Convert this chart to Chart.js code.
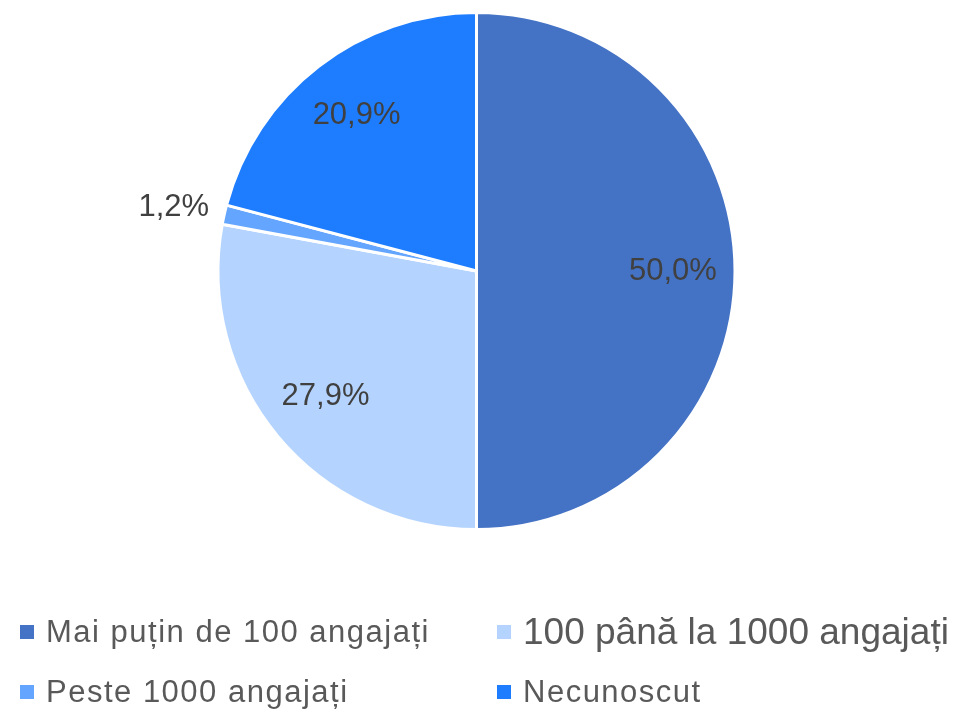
<!DOCTYPE html>
<html>
<head>
<meta charset="utf-8">
<script src="https://cdn.jsdelivr.net/npm/chart.js@4"></script>
<style>
  html, body { margin:0; padding:0; background:#fff; }
  #wrap { position:relative; width:953px; height:712px; }
  #chart { position:absolute; left:0; top:0; }
  .leg { position:absolute; display:flex; align-items:center; color:#595959; font-family:"Liberation Sans", Arial, sans-serif; white-space:nowrap; }
  .leg span.box { display:inline-block; width:14px; height:14px; margin-right:12px; }
</style>
</head>
<body>
<div id="wrap">
  <canvas id="chart" width="953" height="712"></canvas>
</div>
<script>
(function(){
  const labels = ['Mai puțin de 100 angajați', '100 până la 1000 angajați', 'Peste 1000 angajați', 'Necunoscut'];
  const values = [50.0, 27.9, 1.2, 20.9];
  const colors = ['#4472C4', '#B4D4FF', '#64A5FF', '#1E7DFF'];

  // legend layout (two columns, two rows)
  const legendPos = [
    {x:20, y:632, size:31, ls:1.5},
    {x:497, y:632, size:37, ls:0},
    {x:20, y:692, size:31, ls:1.5},
    {x:497, y:692, size:31, ls:1.5}
  ];

  const wrap = document.getElementById('wrap');
  labels.forEach((txt,i)=>{
    const p = legendPos[i];
    const d = document.createElement('div');
    d.className = 'leg';
    d.style.left = p.x + 'px';
    d.style.top = (p.y - 22) + 'px';
    d.style.height = '44px';
    d.style.fontSize = p.size + 'px';
    d.style.letterSpacing = p.ls + 'px';
    const b = document.createElement('span');
    b.className = 'box';
    b.style.background = colors[i];
    d.appendChild(b);
    d.appendChild(document.createTextNode(txt));
    wrap.appendChild(d);
  });

  const pctLabels = {
    id: 'pctLabels',
    afterDatasetsDraw(chart){
      const ctx = chart.ctx;
      const meta = chart.getDatasetMeta(0);
      ctx.save();
      ctx.font = '31px "Liberation Sans", Arial, sans-serif';
      ctx.fillStyle = '#404040';
      ctx.textAlign = 'center';
      ctx.textBaseline = 'middle';
      meta.data.forEach((arc,i)=>{
        const v = values[i];
        const a = (arc.startAngle + arc.endAngle) / 2;
        const f = v < 5 ? 1.2 : 0.76;
        const r = arc.outerRadius * f;
        const x = arc.x + Math.cos(a) * r;
        const y = arc.y + Math.sin(a) * r;
        ctx.fillText(v.toFixed(1).replace('.', ',') + '%', x, y + (v < 5 ? 4 : 0));
      });
      ctx.restore();
    }
  };

  new Chart(document.getElementById('chart').getContext('2d'), {
    type: 'pie',
    data: {
      labels: labels,
      datasets: [{
        data: values,
        backgroundColor: colors,
        borderColor: '#ffffff',
        borderWidth: 3,
        hoverOffset: 0
      }]
    },
    options: {
      responsive: false,
      animation: false,
      layout: { padding: { top: 11, bottom: 181, left: 0, right: 0 } },
      plugins: {
        legend: { display: false },
        tooltip: { enabled: false }
      }
    },
    plugins: [pctLabels]
  });
})();
</script>
</body>
</html>
